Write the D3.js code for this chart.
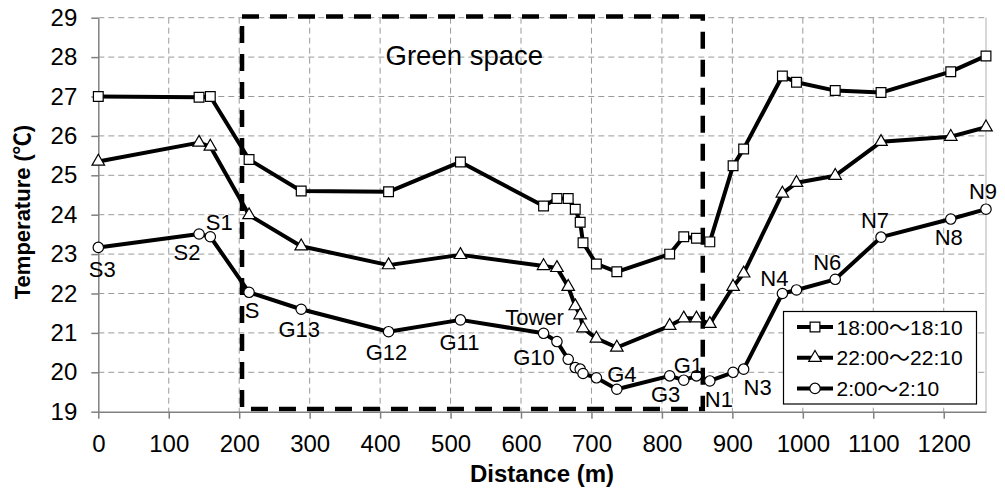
<!DOCTYPE html>
<html lang="en">
<head>
<meta charset="utf-8">
<script src="https://d3js.org/d3.v7.min.js"></script>
<style>
  body { margin: 0; background: #fff; }
  text { font-family: "Liberation Sans", Arial, "Noto Sans CJK JP", sans-serif; fill: #000; }
</style>
</head>
<body>
<script>
// measurement points along the route (m)
const distance = [0, 143, 159, 214, 288, 412, 514, 632, 651, 667, 677, 684, 688, 707, 736,
                  811, 831, 849, 868, 901, 916, 971, 991, 1046, 1111, 1210, 1260];
// temperature (deg C) for each time slot
const temp1800 = [27.0, 26.98, 27.0, 25.4, 24.6, 24.58, 25.34, 24.22, 24.41, 24.41, 24.14, 23.81, 23.29, 22.75, 22.55,
                  23.0, 23.44, 23.4, 23.31, 25.24, 25.67, 27.52, 27.36, 27.15, 27.1, 27.63, 28.03];
const temp2200 = [25.35, 25.83, 25.73, 23.99, 23.2, 22.72, 22.98, 22.7, 22.65, 22.17, 21.68, 21.45, 21.12, 20.86, 20.63,
                  21.18, 21.37, 21.37, 21.23, 22.17, 22.51, 24.54, 24.81, 24.99, 25.85, 25.98, 26.22];
const temp0200 = [23.17, 23.51, 23.44, 22.03, 21.6, 21.03, 21.33, 20.99, 20.78, 20.33, 20.12, 20.08, 19.97, 19.86, 19.57,
                  19.91, 19.80, 19.91, 19.78, 20.0, 20.08, 22.0, 22.09, 22.36, 23.43, 23.89, 24.14];
const seriesNames = ["18:00～18:10", "22:00～22:10", "2:00～2:10"];
const xTicks = d3.range(0, 1201, 100);
const yTicks = d3.range(19, 30, 1);
// station names on the 2:00 series (index into distance)
const stationIndex = [0, 1, 2, 3, 4, 5, 6, 7, 8, 14, 15, 17, 18, 20, 21, 23, 24, 25, 26];
const stationNames = ["S3", "S2", "S1", "S", "G13", "G12", "G11", "Tower", "G10", "G4", "G3", "G1", "N1", "N3", "N4", "N6", "N7", "N8", "N9"];
// green space extent (m)
const greenSpace = [204, 858];

// label offsets from the point: [dx centre, dy baseline]
const labelOffset = {
  S3: [4, 30], S2: [-12, 26], S1: [9, -7], S: [3, 26], G13: [-2, 28], G12: [-2, 28], G11: [-1, 30],
  Tower: [-9, -8], G10: [-23, 23], G4: [5, -7], G3: [-4, 26], G1: [-8, -3], N1: [9, 26], N3: [14, 26],
  N4: [-8, -7], N6: [-8, -9], N7: [-6, -9], N8: [-2, 26], N9: [-3, -10]
};

const W = 1005, H = 489;
const margin = {top: 17.7, right: 19, bottom: 77.3, left: 98.3};
const xMax = W - margin.left - margin.right;
const yMax = H - margin.top - margin.bottom;

const svg = d3.select("body").append("svg")
  .attr("width", W).attr("height", H);
const g = svg.append("g")
  .attr("transform", `translate(${margin.left},${margin.top})`);

const x = d3.scaleLinear().domain([0, 1260]).range([0, xMax]);
const y = d3.scaleLinear().domain([19, 29]).range([yMax, 0]);

// grid
g.append("g").selectAll("line").data(yTicks.slice(1)).join("line")
  .attr("x1", 0).attr("x2", xMax)
  .attr("y1", d => y(d)).attr("y2", d => y(d))
  .attr("stroke", "#9a9a9a").attr("stroke-width", 1).attr("stroke-dasharray", "6,4");
g.append("g").selectAll("line").data(xTicks.slice(1)).join("line")
  .attr("x1", d => x(d)).attr("x2", d => x(d))
  .attr("y1", 0).attr("y2", yMax)
  .attr("stroke", "#9a9a9a").attr("stroke-width", 1).attr("stroke-dasharray", "6,4");
g.append("line")
  .attr("x1", xMax).attr("x2", xMax).attr("y1", 0).attr("y2", yMax)
  .attr("stroke", "#b0b0b0").attr("stroke-width", 1);

// green space box
g.append("rect")
  .attr("x", x(greenSpace[0])).attr("y", y(29.03))
  .attr("width", x(greenSpace[1]) - x(greenSpace[0]))
  .attr("height", y(19.07) - y(29.03))
  .attr("fill", "none").attr("stroke", "#000")
  .attr("stroke-width", 4.5).attr("stroke-dasharray", "17,11");
g.append("text")
  .attr("x", 366).attr("y", 47)
  .attr("text-anchor", "middle")
  .style("font-size", "27.5px")
  .text("Green space");

// axes
const xAxis = g.append("g")
  .attr("transform", `translate(0,${yMax})`)
  .call(d3.axisBottom(x).tickValues(xTicks).tickFormat(d3.format("d"))
    .tickSize(7).tickPadding(16).tickSizeOuter(0));
const yAxis = g.append("g")
  .call(d3.axisLeft(y).tickValues(yTicks).tickSize(7).tickPadding(14).tickSizeOuter(0));
[xAxis, yAxis].forEach(a => {
  a.select(".domain").attr("stroke", "#808080").attr("stroke-width", 1.5);
  a.selectAll(".tick line").attr("stroke", "#808080").attr("stroke-width", 1.5);
  a.selectAll(".tick text").style("font-size", "24px").attr("fill", "#000");
});

svg.append("text")
  .attr("x", 542).attr("y", 482)
  .attr("text-anchor", "middle")
  .style("font-size", "24px").style("font-weight", "bold")
  .text("Distance (m)");
svg.append("text")
  .attr("transform", "translate(30,212) rotate(-90)")
  .attr("text-anchor", "middle")
  .style("font-size", "22px").style("font-weight", "bold")
  .text("Temperature (℃)");

// series
const series = [temp1800, temp2200, temp0200];
const symbols = [
  d3.symbol().type(d3.symbolSquare).size(95),
  d3.symbol().type(d3.symbolTriangle).size(68),
  d3.symbol().type(d3.symbolCircle).size(85)
];
const line = d3.line()
  .x((d, i) => x(distance[i]))
  .y(d => y(d));

series.forEach(s => {
  g.append("path").datum(s)
    .attr("fill", "none").attr("stroke", "#000")
    .attr("stroke-width", 4).attr("stroke-linejoin", "round")
    .attr("d", line);
});
series.forEach((s, k) => {
  g.append("g").selectAll("path").data(s).join("path")
    .attr("transform", (d, i) => `translate(${x(distance[i])},${y(d)})`)
    .attr("d", symbols[k])
    .attr("fill", "#fff").attr("stroke", "#000").attr("stroke-width", 1.2);
});

// station labels
g.append("g").selectAll("text").data(stationIndex).join("text")
  .attr("x", (d, j) => x(distance[d]) + labelOffset[stationNames[j]][0])
  .attr("y", (d, j) => y(temp0200[d]) + labelOffset[stationNames[j]][1])
  .attr("text-anchor", "middle")
  .style("font-size", "22px")
  .text((d, j) => stationNames[j]);

// legend
const legend = svg.append("g").attr("transform", "translate(783.5,311.5)");
legend.append("rect")
  .attr("width", 193).attr("height", 92.5)
  .attr("fill", "#fff").attr("stroke", "#000").attr("stroke-width", 1.2);
seriesNames.forEach((name, k) => {
  const row = legend.append("g").attr("transform", `translate(0,${15.5 + k * 30.7})`);
  row.append("line").attr("x1", 13.5).attr("x2", 49.5)
    .attr("stroke", "#000").attr("stroke-width", 4);
  row.append("path").attr("transform", "translate(31.5,0)")
    .attr("d", symbols[k])
    .attr("fill", "#fff").attr("stroke", "#000").attr("stroke-width", 1.2);
  row.append("text").attr("x", 53).attr("y", 7.5)
    .style("font-size", "21px")
    .text(name);
});
</script>
</body>
</html>
